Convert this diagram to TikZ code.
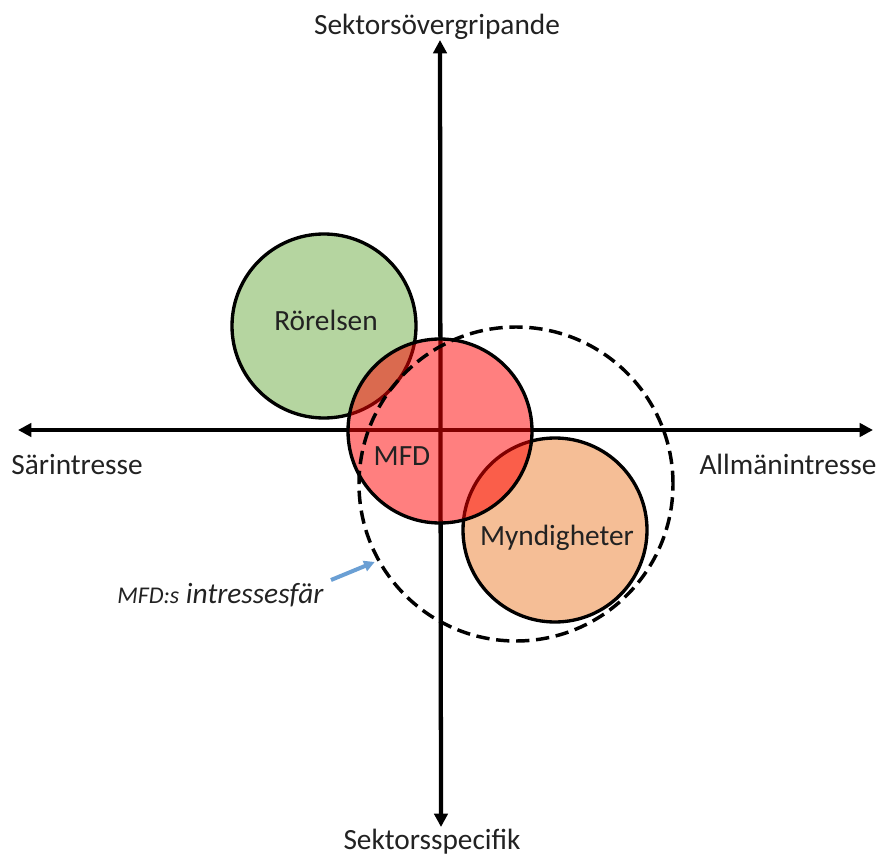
\documentclass[tikz,border=0pt]{standalone}
\usepackage{fontspec}
\setmainfont{Carlito}
\usepackage{xcolor}
\usepackage{tikz}
\usetikzlibrary{arrows.meta,positioning}

\definecolor{rorgreen}{HTML}{B5D5A0}
\definecolor{myndorange}{HTML}{F5BE96}
\definecolor{pilblue}{HTML}{6A9FD4}
\definecolor{textgray}{HTML}{222222}

\tikzset{
    axis/.style={line width=3.2pt, {Triangle[length=10pt,width=10pt]}-{Triangle[length=10pt,width=10pt]}},
    sphere/.style={circle, draw=black, line width=2.5pt, minimum size=138pt, inner sep=0pt},
    lbl/.style={text=textgray, font=\fontsize{22}{26}\selectfont, inner sep=0pt, anchor=base}
}

\begin{document}
\begin{tikzpicture}[x=0.75pt,y=-0.75pt]
    \useasboundingbox (0,0) rectangle (881,855);
    % axes
    \coordinate (top) at (440,40);
    \coordinate (bottom) at (441,827);
    \coordinate (left) at (18,430);
    \coordinate (right) at (873,430);
    \draw[axis] (bottom) -- (top);
    \draw[axis] (left) -- (right);
    \node[lbl] (overgr) at (437,35) {Sektorsövergripande};
    \node[lbl] (specifik) at (432,849) {Sektorsspecifik};
    \node[lbl] (sarint) at (77,474) {Särintresse};
    \node[lbl] (allmint) at (788,474) {Allmänintresse};
    % circles
    \node[sphere, fill=rorgreen] (rorelsen) at (324,326) {};
    \node[sphere, fill=myndorange] (myndigheter) at (555,530) {};
    \node[sphere, fill=red, fill opacity=0.5] (mfd) at (440,431) {};
    \node[circle, draw=black, line width=2.6pt, dash pattern=on 10pt off 5pt, minimum size=235.5pt, inner sep=0pt] (sfar) at (516,484) {};
    \node[lbl] at (326,330) {Rörelsen};
    \node[lbl] at (557,545) {Myndigheter};
    \node[lbl] at (402,465) {MFD};
    % annotation
    \node[text=textgray, inner sep=0pt, anchor=base west, font=\itshape\fontsize{22}{26}\selectfont] (note) at (117,603) {{\fontsize{18}{20}\selectfont MFD:s} intressesfär};
    \coordinate (pilstart) at (331,580);
    \draw[pilblue, line width=3pt, -{Triangle[length=8pt,width=8pt]}, shorten >=2pt] (pilstart) -- (sfar.209);
\end{tikzpicture}
\end{document}
